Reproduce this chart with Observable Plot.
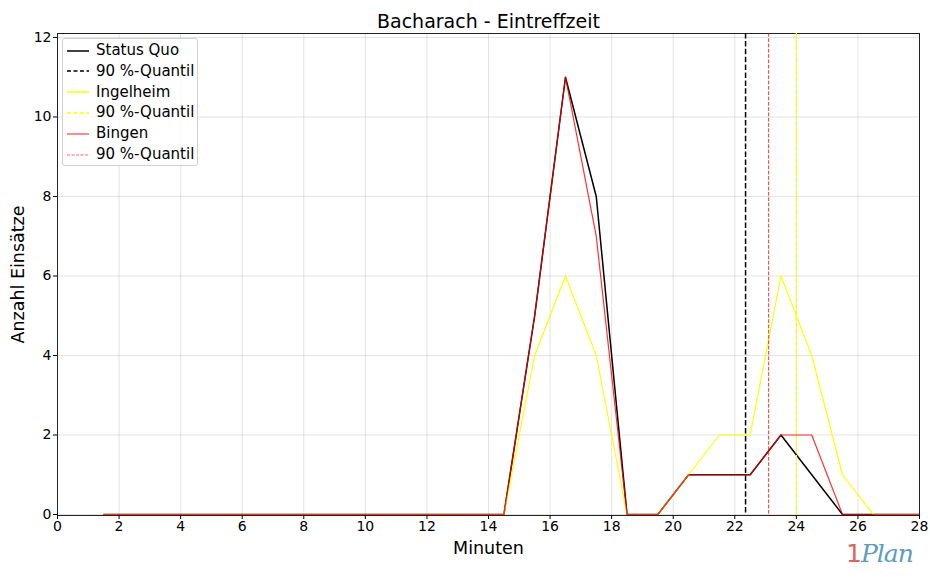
<!DOCTYPE html>
<html>
<head>
<meta charset="utf-8">
<script src="https://cdn.jsdelivr.net/npm/d3@7"></script>
<script src="https://cdn.jsdelivr.net/npm/@observablehq/plot@0.6"></script>
<style>
  html, body { margin: 0; padding: 0; background: #fff; }
  #wrap { position: relative; width: 930px; height: 583px; font-family: "DejaVu Sans", sans-serif; }
  #wrap svg { font-family: "DejaVu Sans", sans-serif; }
  #wrap svg g[aria-label="x-axis tick label"] text,
  #wrap svg g[aria-label="y-axis tick label"] text { font-size: 14px !important; }
  #wrap svg g[aria-label="x-axis label"] text,
  #wrap svg g[aria-label="y-axis label"] text { font-size: 17.5px !important; }
  .legend { position: absolute; left: 62px; top: 38px; width: 134px; height: 126px; border: 1px solid #d0d0d0; border-radius: 3px; background: rgba(255,255,255,0.8); font-size: 15px; color: #000; }
  .legend .row { position: absolute; left: 3px; height: 20px; line-height: 20px; white-space: nowrap; }
  .legend svg { vertical-align: middle; margin-right: 6px; }
  .logo { position: absolute; left: 846px; top: 536px; font-family: "DejaVu Serif", serif; font-style: italic; font-size: 25px; line-height: 36px; letter-spacing: -1px; }
</style>
</head>
<body>
<div id="wrap"></div>
<script>
const minutes = [1.5, 2.5, 3.5, 4.5, 5.5, 6.5, 7.5, 8.5, 9.5, 10.5, 11.5, 12.5, 13.5, 14.5, 15.5, 16.5, 17.5, 18.5, 19.5, 20.5, 21.5, 22.5, 23.5, 24.5, 25.5, 26.5, 27.5, 28.5];
const statusQuo = [0, 0, 0, 0, 0, 0, 0, 0, 0, 0, 0, 0, 0, 0, 5, 11, 8, 0, 0, 1, 1, 1, 2, 1, 0, 0, 0, 0];
const ingelheim = [0, 0, 0, 0, 0, 0, 0, 0, 0, 0, 0, 0, 0, 0, 4, 6, 4, 0, 0, 1, 2, 2, 6, 4, 1, 0, 0, 0];
const bingen    = [0, 0, 0, 0, 0, 0, 0, 0, 0, 0, 0, 0, 0, 0, 5, 11, 7, 0, 0, 1, 1, 1, 2, 2, 0, 0, 0, 0];
const seriesNames = ["Status Quo", "Ingelheim", "Bingen"];
const seriesColors = ["#000000", "#ffff00", "#ff0000"];
const quantiles = [22.35, 24.0, 23.1];
const xTicks = [0, 2, 4, 6, 8, 10, 12, 14, 16, 18, 20, 22, 24, 26, 28];
const yTicks = [0, 2, 4, 6, 8, 10, 12];

const rows = (vals) => minutes.map((m, i) => ({x: m, y: vals[i]}));

const marks = [
  Plot.gridX(xTicks, {stroke: "#b0b0b0", strokeOpacity: 0.45, strokeWidth: 0.8}),
  Plot.gridY(yTicks, {stroke: "#b0b0b0", strokeOpacity: 0.45, strokeWidth: 0.8}),
  Plot.frame({stroke: "#222", strokeWidth: 1}),
  Plot.axisX({ticks: xTicks, tickSize: 4, tickPadding: 2, label: "Minuten", labelAnchor: "center", labelArrow: "none", labelOffset: 38}),
  Plot.axisY({ticks: yTicks, tickSize: 4, tickPadding: 2, label: "Anzahl Einsätze", labelAnchor: "center", labelArrow: "none", labelOffset: 46}),
  // Status Quo
  Plot.line(rows(statusQuo), {x: "x", y: "y", stroke: seriesColors[0], strokeWidth: 1.5, clip: true}),
  Plot.ruleX([quantiles[0]], {stroke: seriesColors[0], strokeWidth: 1.5, strokeDasharray: "5.5,2.4"}),
  // Ingelheim
  Plot.line(rows(ingelheim), {x: "x", y: "y", stroke: seriesColors[1], strokeWidth: 1.2, clip: true}),
  Plot.ruleX([quantiles[1]], {stroke: seriesColors[1], strokeWidth: 1.2, strokeDasharray: "4.4,1.9"}),
  // Bingen
  Plot.line(rows(bingen), {x: "x", y: "y", stroke: seriesColors[2], strokeOpacity: 0.8, strokeWidth: 1.2, clip: true}),
  Plot.ruleX([quantiles[2]], {stroke: seriesColors[2], strokeOpacity: 0.8, strokeWidth: 1.0, strokeDasharray: "3.7,1.6"}),
  Plot.text(["Bacharach - Eintreffzeit"], {frameAnchor: "top", lineAnchor: "bottom", dy: -6, fontSize: 19, fill: "#000"})
];

const chart = Plot.plot({
  width: 930,
  height: 583,
  marginLeft: 57,
  marginRight: 11,
  marginTop: 33,
  marginBottom: 68,
  x: {domain: [0, 28]},
  y: {domain: [-0.025, 12.1]},
  style: {background: "#fff", color: "#000", fontFamily: "DejaVu Sans, sans-serif"},
  marks
});
const wrap = document.getElementById("wrap");
wrap.appendChild(chart);

// legend
const legendItems = [
  {label: seriesNames[0], color: seriesColors[0], dash: null, op: 1, w: 1.5},
  {label: "90 %-Quantil", color: seriesColors[0], dash: "4,2.5", op: 1, w: 1.5},
  {label: seriesNames[1], color: seriesColors[1], dash: null, op: 1, w: 1.5},
  {label: "90 %-Quantil", color: seriesColors[1], dash: "4,2.5", op: 1, w: 1.5},
  {label: seriesNames[2], color: seriesColors[2], dash: null, op: 0.6, w: 1.5},
  {label: "90 %-Quantil", color: seriesColors[2], dash: "3,1.5", op: 0.6, w: 1.2}
];
const legend = document.createElement("div");
legend.className = "legend";
legendItems.forEach((it, i) => {
  const row = document.createElement("div");
  row.className = "row";
  row.style.top = (1 + i * 20.8) + "px";
  row.innerHTML = `<svg width="24" height="10"><line x1="1" y1="5" x2="23" y2="5" stroke="${it.color}" stroke-opacity="${it.op}" stroke-width="${it.w}" ${it.dash ? `stroke-dasharray="${it.dash}"` : ""}/></svg>${it.label}`;
  legend.appendChild(row);
});
wrap.appendChild(legend);

// logo
const logo = document.createElement("div");
logo.className = "logo";
logo.innerHTML = `<span style="color:#d9675f;font-style:normal;font-family:'DejaVu Sans';">1</span><span style="color:#5b9cc0">Plan</span>`;
wrap.appendChild(logo);
</script>
</body>
</html>
